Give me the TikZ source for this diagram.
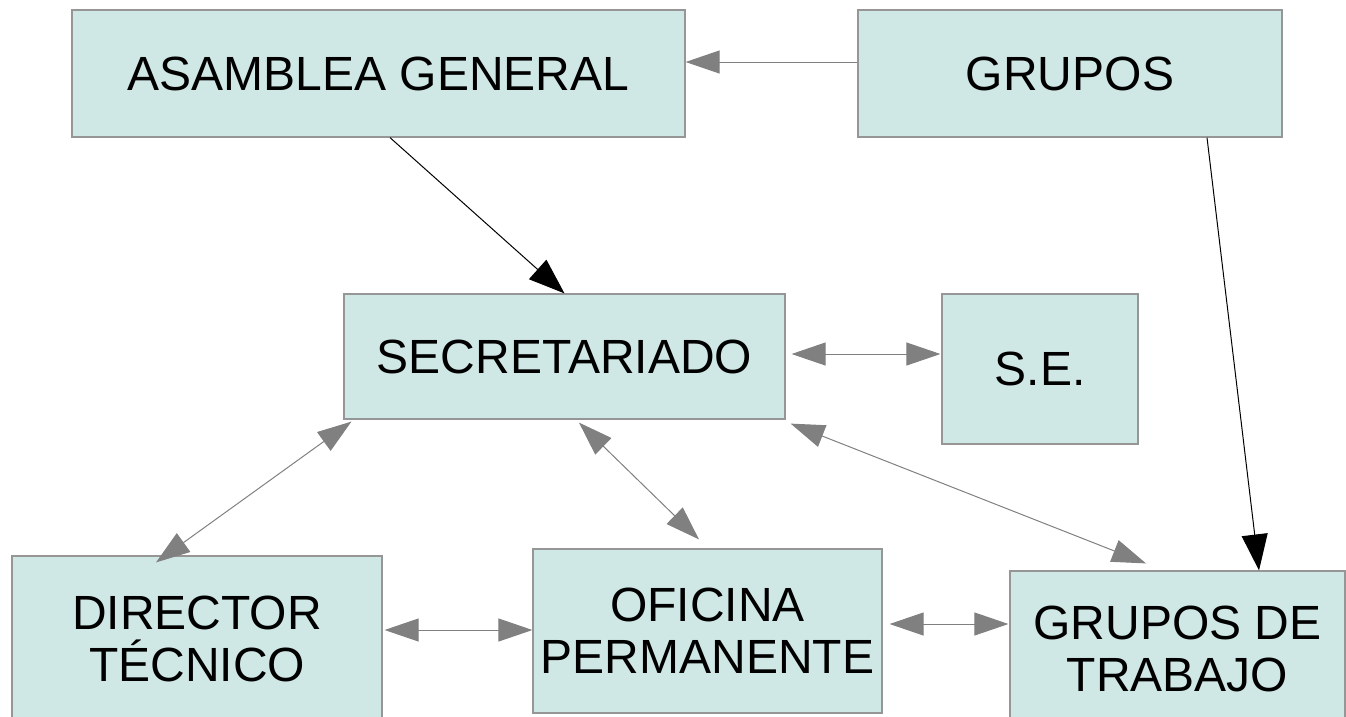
\documentclass[tikz,border=0pt]{standalone}
\usepackage{fontspec}
\setmainfont{Liberation Sans}
\usetikzlibrary{arrows.meta}

\definecolor{boxfill}{RGB}{207,231,229}
\definecolor{boxline}{RGB}{150,150,150}
\definecolor{arrgray}{RGB}{128,128,128}

\tikzset{
  box/.style={draw=boxline, line width=1.2pt, fill=boxfill, align=center,
    inner sep=0pt, font=\fontsize{48}{52}\selectfont},
  link/.style={draw=arrgray, line width=1pt,
    {Triangle[length=34pt,width=23pt]}-{Triangle[length=34pt,width=23pt]}},
  oneway/.style={draw=arrgray, line width=1pt, -{Triangle[length=34pt,width=23pt]}},
  flow/.style={draw=black, line width=1pt, -{Triangle[length=36pt,width=26pt]}}
}

\begin{document}
\begin{tikzpicture}[x=1pt, y=-1pt]
  \useasboundingbox (0,0) rectangle (1346,716);
  \node[box, minimum width=613pt, minimum height=127pt] (asam) at(378.5,73.5){ASAMBLEA GENERAL};
  \node[box, minimum width=424pt, minimum height=127pt] (grupos) at(1070,73.5){GRUPOS};
  \node[box, minimum width=441pt, minimum height=125pt] (sec) at(564.5,356.5){SECRETARIADO};
  \node[box, minimum width=196pt, minimum height=150pt] (se) at(1040,369){S.E.};
  \node[box, minimum width=370pt, minimum height=165pt] (dir) at(197,638.5){DIRECTOR\\TÉCNICO};
  \node[box, minimum width=349pt, minimum height=164pt] (ofi) at(707.5,631){OFICINA\\PERMANENTE};
  \node[box, minimum width=335pt, minimum height=155pt] (gdt) at(1177.5,648.5){GRUPOS DE\\TRABAJO};
  % one-way
  \draw[oneway] ([shift={(0,-11.5)}]grupos.west) -- ([shift={(0,-11.5)}]asam.east);
  \draw[flow] ([shift={(11.5,0)}]asam.south) -- (sec.north);
  \draw[flow] ([shift={(137,0)}]grupos.south) -- ([shift={(81.5,0)}]gdt.north);
  % both ways
  \draw[link] ([shift={(6,-2.5)}]sec.east) -- ([shift={(-1,-15)}]se.west);
  \draw[link] ([shift={(8,2)}]sec.south west) -- ([shift={(-41,7)}]dir.north);
  \draw[link] ([shift={(14.5,3)}]sec.south) -- ([shift={(-8.5,-9)}]ofi.north);
  \draw[link] ([shift={(5,4)}]sec.south east) -- ([shift={(-31.5,-7)}]gdt.north);
  \draw[link] ([shift={(2,-8.5)}]dir.east) -- ([shift={(0,-1)}]ofi.west);
  \draw[link] ([shift={(7,-7)}]ofi.east) -- ([shift={(-1,-24.5)}]gdt.west);
\end{tikzpicture}
\end{document}
